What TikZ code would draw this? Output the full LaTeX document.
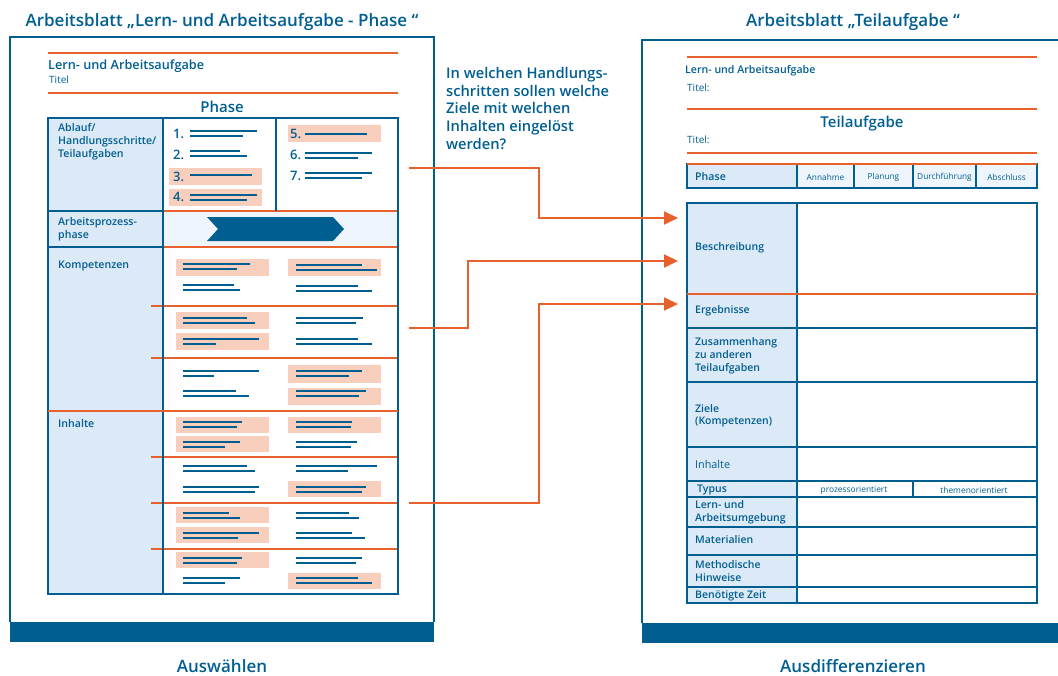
\documentclass[tikz,border=0pt]{standalone}
\usepackage{fontspec}
\setmainfont{Open Sans}
% medium-heavy face for headings and labels
\IfFontExistsTF{Open Sans SemiBold}
  {\newfontfamily\semib{Open Sans SemiBold}}
  {\IfFontExistsTF{Open Sans Semibold}
    {\newfontfamily\semib{Open Sans Semibold}}
    {\newfontfamily\semib{Open Sans}[FakeBold=1.2]}}
\usetikzlibrary{arrows.meta}
\definecolor{navy}{HTML}{005E91}
\definecolor{flame}{HTML}{E8602C}
\definecolor{blush}{HTML}{F8CFBD}
\definecolor{paleA}{HTML}{DCE9F6}
\definecolor{paleB}{HTML}{EEF5FC}
\newcommand{\fs}[2]{\fontsize{#1}{#2}\selectfont}
\begin{document}
\begin{tikzpicture}[x=1pt,y=-1pt,
  txt/.style={inner sep=0pt,text=navy,anchor=west},
  ctxt/.style={inner sep=0pt,text=navy},
  frame/.style={draw=navy,line width=2pt},
  grid/.style={draw=navy,line width=1.4pt},
  rule/.style={draw=flame,line width=1.2pt},
  bar/.style={fill=navy},
  stroke/.style={draw=navy,line width=1.7pt},
  hl/.style={fill=blush},
  link/.style={draw=flame,line width=2pt,-{Triangle[length=14pt,width=13pt]}}]
\useasboundingbox (0,0) rectangle (1058,675);

% ---------------- left sheet ----------------
\node[ctxt,font=\semib\fs{17}{20}] (ttlL) at (222,22) {Arbeitsblatt „Lern- und Arbeitsaufgabe - Phase “};
\draw[frame] (10,622) -- (10,37) -- (434,37) -- (434,622);
\fill[bar] (10,622) rectangle (434,642);
\node[ctxt,font=\semib\fs{17}{20}] (labL) at (222,666) {Auswählen};

\draw[rule,line width=1.6pt] (48,53) -- (398,53);
\node[txt,font=\semib\fs{12.7}{15}] (lauL) at (48,66) {Lern- und Arbeitsaufgabe};
\node[txt,font=\fs{10}{12}] (titL) at (49,80) {Titel};
\draw[rule,line width=1.6pt] (48,93) -- (398,93);
\node[ctxt,font=\semib\fs{15}{17}] (phsL) at (222,107) {Phase};

% table backgrounds
\fill[paleA] (48,118) rectangle (163,594);
\fill[paleB] (163,211) rectangle (398,247);
\fill[navy] (207,217) -- (333,217) -- (344,229) -- (333,241) -- (207,241) -- (218,229) -- cycle;

% highlighted entries
\foreach \a/\b/\c/\d in {169/168/262/185,169/189/262/206,288/125/381/142,
  176/259/269/276,288/259/381/276,176/312/269/329,176/333/269/350,
  288/365/381/383,288/388/381/405,176/417/269/433,288/417/381/433,
  176/436/269/452,288/481/381/497,176/507/269/523,176/527/269/543,
  176/552/269/568,288/573/381/589}
  \fill[hl] (\a,\b) rectangle (\c,\d);

% placeholder text lines (two per entry)
\foreach \s/\y/\e/\f in {190/131/257/243,190/151/240/247,190/195/257/247,
  305/153/372/358,305/173/372/362,
  183/264/250/237,296/265/362/377,183/285/234/240,296/286/358/372,
  183/318/247/255,296/318/363/356,183/339/259/216,296/339/358/372,
  183/371/259/214,296/371/362/349,183/391/236/249,296/391/366/359,
  183/422/242/237,296/422/352/351,183/442/240/225,296/442/357/351,
  183/466/247/255,296/466/377/348,183/487/259/255,296/487/366/362,
  183/513/229/240,296/513/349/359,183/533/259/238,296/533/352/365,
  183/558/242/237,296/558/362/356,183/578/240/225,296/578/358/372}
  {\draw[stroke] (\s,\y) -- (\e,\y);
   \draw[stroke] (\s,\y+5) -- (\f,\y+5);}
\draw[stroke] (190,175) -- (252,175);
\draw[stroke] (305,134) -- (367,134);

% step numbers
\foreach \n/\x/\y in {1/173/134,2/173/155,3/173/177,4/173/197,5/290/134,6/290/155,7/290/176}
  \node[txt,font=\semib\fs{13}{15}] (num\n) at (\x,\y) {\n.};

% table rules
\draw[rule] (163,211) -- (398,211);
\draw[rule] (163,247) -- (398,247);
\foreach \y in {306,358,457,503,549}
  \draw[rule] (151,\y) -- (398,\y);
\draw[grid] (48,211) -- (163,211);
\draw[grid] (48,247) -- (163,247);
\draw[grid] (163,118) -- (163,594);
\draw[grid] (276,118) -- (276,211);
\draw[grid] (48,118) rectangle (398,594);
\draw[rule,line width=2.2pt] (48,411) -- (398,411);

% row labels
\node[txt,align=left,font=\semib\fs{10.6}{13}] (ablauf) at (58,142) {Ablauf/\\Handlungsschritte/\\Teilaufgaben};
\node[txt,align=left,font=\semib\fs{10.6}{13}] (aprz) at (58,229) {Arbeitsprozess-\\phase};
\node[txt,font=\semib\fs{10.6}{13}] (komp) at (58,266) {Kompetenzen};
\node[txt,font=\semib\fs{10.6}{13}] (inh) at (58,424) {Inhalte};

% ---------------- question ----------------
\node[txt,align=left,anchor=north west,font=\semib\fs{14.7}{17.7}] (quest) at (446,67)
  {In welchen Handlungs-\\schritten sollen welche\\Ziele mit welchen\\Inhalten eingelöst\\werden?};

% ---------------- right sheet ----------------
\node[ctxt,font=\semib\fs{17}{20}] (ttlR) at (853,22) {Arbeitsblatt „Teilaufgabe “};
\draw[frame] (642,623) -- (642,40) -- (1058,40);
\fill[bar] (642,623) rectangle (1058,643);
\node[ctxt,font=\semib\fs{17}{20}] (labR) at (853,666) {Ausdifferenzieren};

\draw[rule,line width=1.6pt] (687,57) -- (1037,57);
\node[txt,font=\semib\fs{10.6}{13}] (lauR) at (685,71) {Lern- und Arbeitsaufgabe};
\node[txt,font=\fs{10}{12}] (titR1) at (687,88) {Titel:};
\draw[rule,line width=1.6pt] (687,109) -- (1037,109);
\node[ctxt,font=\semib\fs{15}{17}] (teil) at (862,124) {Teilaufgabe};
\node[txt,font=\fs{10}{12}] (titR2) at (687,140) {Titel:};
\draw[rule,line width=1.6pt] (687,153) -- (1037,153);

% phase row
\fill[paleA] (687,164) rectangle (797,188);
\fill[paleB] (797,164) rectangle (1037,188);
\draw[grid] (687,164) rectangle (1037,188);
\foreach \x in {797,854,913,976} \draw[grid] (\x,164) -- (\x,188);
\draw[rule,line width=1.6pt] (687,164) -- (1037,164);
\node[txt,font=\semib\fs{10.6}{13}] (phsR) at (695,177) {Phase};
\node[ctxt,font=\fs{8.3}{10}] (ann) at (825.5,177) {Annahme};
\node[ctxt,font=\fs{8.3}{10}] (plan) at (883.5,177) {Planung};
\node[ctxt,font=\fs{8.3}{10}] (durch) at (944.5,177) {Durchführung};
\node[ctxt,font=\fs{8.3}{10}] (absch) at (1006.5,177) {Abschluss};

% main form
\fill[paleA] (687,203) rectangle (797,603);
\foreach \y in {328,447,481,497,527,555,587}
  \draw[grid] (687,\y) -- (1037,\y);
\draw[grid,line width=1.8pt] (687,382) -- (1037,382);
\draw[grid] (797,203) -- (797,603);
\draw[grid] (913,481) -- (913,497);
\draw[grid] (687,203) rectangle (1037,603);
\draw[rule] (687,294) -- (1037,294);

\node[txt,font=\semib\fs{10.5}{13}] (besch) at (695,248) {Beschreibung};
\node[txt,font=\semib\fs{10.5}{13}] (erg) at (695,311) {Ergebnisse};
\node[txt,align=left,font=\semib\fs{10.5}{13}] (zus) at (695,356) {Zusammenhang\\zu anderen\\Teilaufgaben};
\node[txt,align=left,font=\semib\fs{10.5}{12.5}] (ziele) at (695,416) {Ziele\\(Kompetenzen)};
\node[txt,font=\fs{10.8}{13}] (inhR) at (695,464) {Inhalte};
\node[txt,font=\semib\fs{10.5}{13}] (typ) at (697,490) {Typus};
\node[ctxt,font=\fs{8.4}{10}] (proz) at (854,490) {prozessorientiert};
\node[ctxt,font=\fs{8.4}{10}] (thema) at (974,490) {themenorientiert};
\node[txt,align=left,font=\semib\fs{10.5}{13}] (umg) at (695,512.5) {Lern- und\\Arbeitsumgebung};
\node[txt,font=\semib\fs{10.5}{13}] (mat) at (695,540) {Materialien};
\node[txt,align=left,font=\semib\fs{10.5}{13}] (meth) at (695,571.5) {Methodische\\Hinweise};
\node[txt,font=\semib\fs{10.5}{13}] (zeit) at (695,596) {Benötigte Zeit};

% ---------------- connectors ----------------
\coordinate (srcA) at (409,168);
\coordinate (srcB) at (409,328);
\coordinate (srcC) at (409,503);
\coordinate (dstA) at (678,218);
\coordinate (dstB) at (678,261);
\coordinate (dstC) at (678,304);
\draw[link] (srcA) -- (539,168) |- (dstA);
\draw[link] (srcB) -- (468,328) |- (dstB);
\draw[link] (srcC) -- (539,503) |- (dstC);
\end{tikzpicture}
\end{document}
